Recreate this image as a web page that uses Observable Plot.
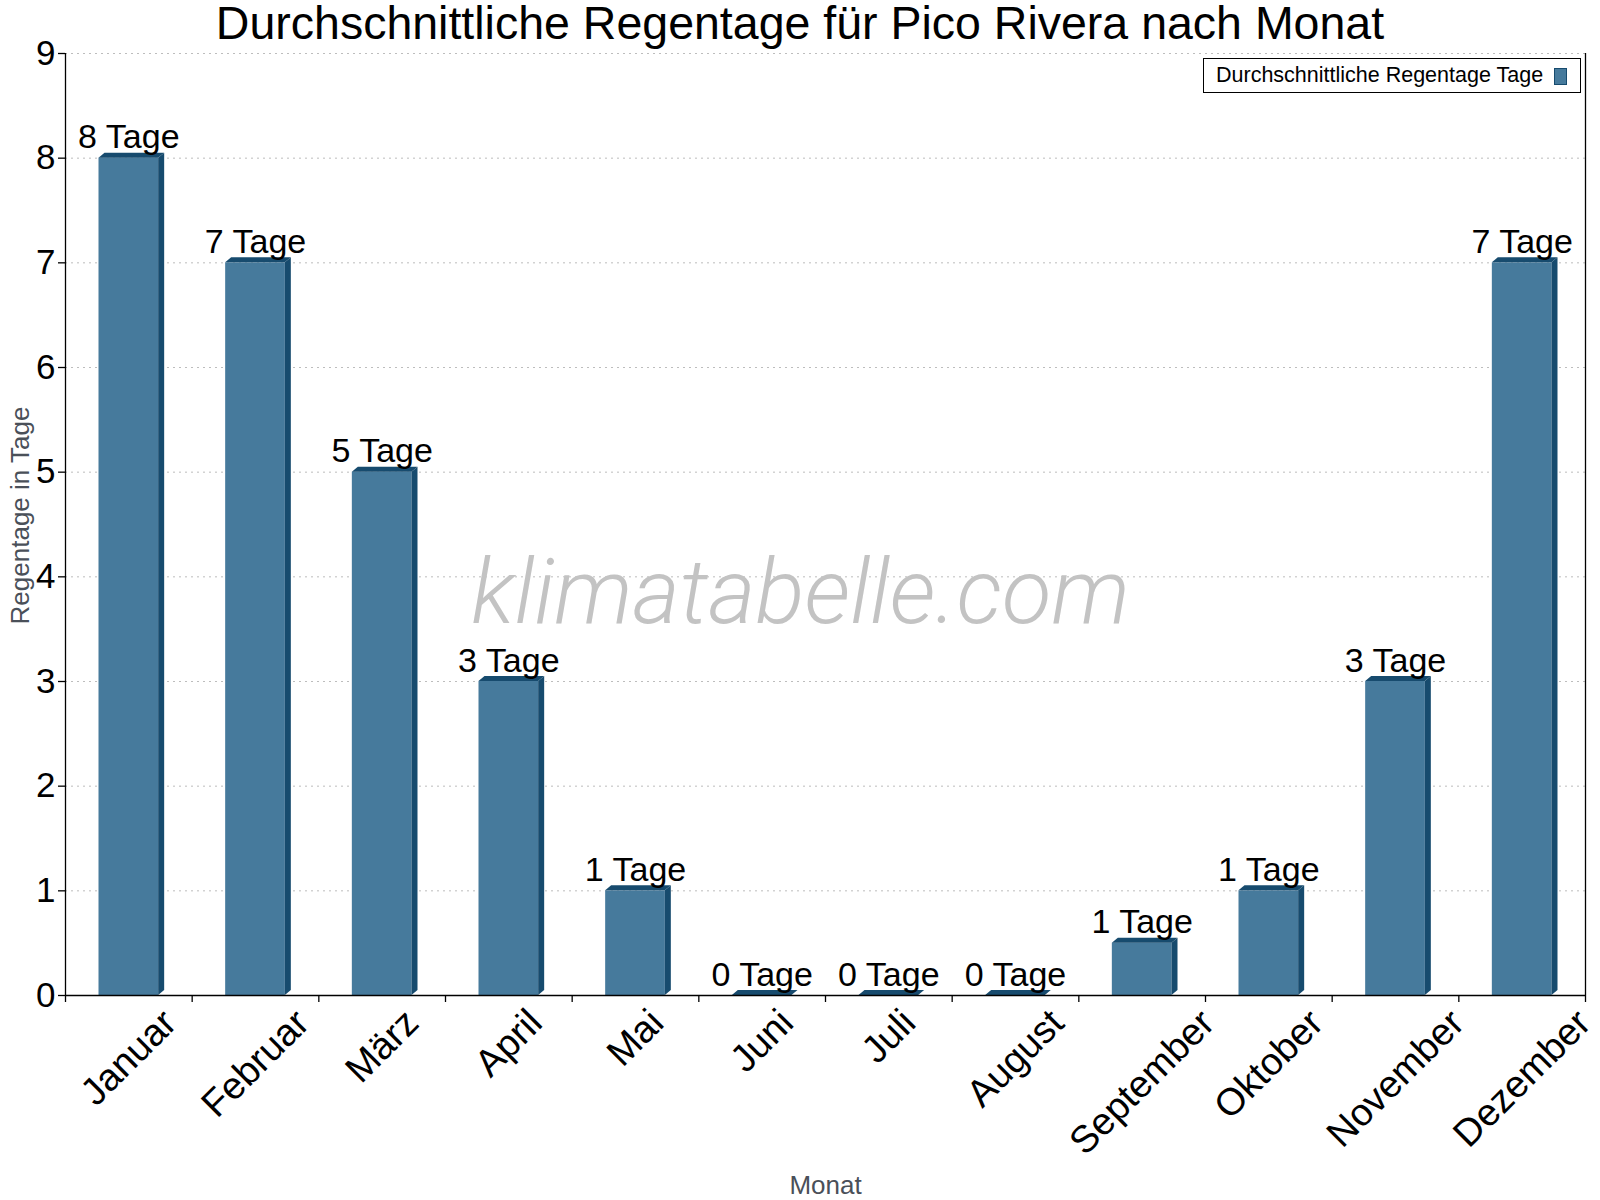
<!DOCTYPE html>
<html>
<head>
<meta charset="utf-8">
<script src="https://cdn.jsdelivr.net/npm/d3@7"></script>
<script src="https://cdn.jsdelivr.net/npm/@observablehq/plot@0.6"></script>
<style>
  html, body { margin: 0; padding: 0; background: #fff; }
  #wrap { position: relative; width: 1600px; height: 1200px; font-family: "Liberation Sans", Arial, sans-serif; }
  #title { position: absolute; left: 0; top: 0px; width: 1600px; text-align: center; font-size: 46.5px; line-height: 47px; color: #000; }
  #legend { position: absolute; left: 1203px; top: 58px; width: 376px; height: 33px; border: 1px solid #000; background: #fff; box-sizing: content-box; font-size: 21.5px; }
  #legend .lbl { position: absolute; left: 12px; top: 5px; line-height: 23px; }
  #legend .sw { position: absolute; left: 350px; top: 9px; width: 11px; height: 15px; background: #467a9c; border: 1px solid #174b6e; }
</style>
</head>
<body>
<div id="wrap">
  <div id="chart"></div>
  <div id="title">Durchschnittliche Regentage für Pico Rivera nach Monat</div>
  <div id="legend"><span class="lbl">Durchschnittliche Regentage Tage</span><span class="sw"></span></div>
</div>
<script>
const months = ["Januar", "Februar", "März", "April", "Mai", "Juni", "Juli", "August", "September", "Oktober", "November", "Dezember"];
const rainDays = [8, 7, 5, 3, 1, 0, 0, 0, 0.5, 1, 3, 7];
const valueLabels = ["8 Tage", "7 Tage", "5 Tage", "3 Tage", "1 Tage", "0 Tage", "0 Tage", "0 Tage", "1 Tage", "1 Tage", "3 Tage", "7 Tage"];
const yTicks = [0, 1, 2, 3, 4, 5, 6, 7, 8, 9];
const boundaries = d3.range(0, months.length + 1);

const frontColor = "#467a9c";
const darkColor = "#174b6e";
const depthX = 6, depthY = 5;

const data = months.map((m, i) => ({i, month: m, value: rainDays[i], label: valueLabels[i]}));

const W = 1600, H = 1200, mL = 65, mR = 15, mT = 53, mB = 205;
const y0 = H - mB;

function bars3d(index, scales, values, dimensions, context, next) {
  const g = next(index, scales, values, dimensions, context);
  const ns = "http://www.w3.org/2000/svg";
  g.querySelectorAll("rect").forEach(r => {
    const x = +r.getAttribute("x"), y = +r.getAttribute("y");
    const w = +r.getAttribute("width"), h = +(r.getAttribute("height") || 0);
    const top = document.createElementNS(ns, "polygon");
    top.setAttribute("points", `${x},${y} ${x + depthX},${y - depthY} ${x + w + depthX},${y - depthY} ${x + w},${y}`);
    top.setAttribute("fill", darkColor);
    const side = document.createElementNS(ns, "polygon");
    side.setAttribute("points", `${x + w},${y} ${x + w + depthX},${y - depthY} ${x + w + depthX},${y + h - depthY} ${x + w},${y + h}`);
    side.setAttribute("fill", darkColor);
    g.appendChild(top);
    g.appendChild(side);
  });
  return g;
}

const chart = Plot.plot({
  width: W, height: H,
  marginLeft: mL, marginRight: mR, marginTop: mT, marginBottom: mB,
  style: {fontFamily: "'Liberation Sans', Arial, sans-serif", background: "#fff", color: "#000", overflow: "visible"},
  x: {type: "linear", domain: [0, months.length], axis: null},
  y: {domain: [0, 9], axis: null},
  marks: [
    Plot.gridY(yTicks.slice(1), {stroke: "#bdbdbd", strokeOpacity: 1, strokeDasharray: "2,4", strokeWidth: 1}),
    Plot.text(["klimatabelle.com"], {frameAnchor: "middle", dx: -25, dy: 98, lineAnchor: "bottom", fontSize: 91, fontStyle: "italic", fontWeight: 300, fontFamily: "Roboto", fill: "#c3c3c3"}),
    Plot.rectY(data, {x1: "i", x2: d => d.i + 1, y: "value", insetLeft: 33.5, insetRight: 33.5, fill: frontColor, render: bars3d}),
    Plot.ruleX([0, months.length], {y1: 0, y2: 9, stroke: "#000", strokeWidth: 1.3}),
    Plot.ruleY([0], {stroke: "#000", strokeWidth: 1.3}),
    Plot.axisY({ticks: yTicks, tickSize: 7, tickPadding: 3, fontSize: 35, label: null, strokeWidth: 1.3}),
    Plot.axisX({ticks: boundaries, tickSize: 7, tickFormat: () => "", label: null, strokeWidth: 1.3}),
    Plot.text(data, {x: d => d.i + 0.5, y: "value", text: "label", dy: -10, lineAnchor: "bottom", fontSize: 34, fill: "#000"}),
    Plot.text(data, {x: d => d.i + 0.5, y: 0, text: "month", rotate: -45, textAnchor: "middle", lineAnchor: "middle", fontSize: 38, fill: "#000"}),
    Plot.text(["Regentage in Tage"], {frameAnchor: "left", dx: -45, dy: -9, rotate: -90, textAnchor: "middle", lineAnchor: "middle", fontSize: 26, fill: "#4a5059"}),
    Plot.text(["Monat"], {frameAnchor: "bottom", dy: 198, lineAnchor: "bottom", fontSize: 26, fill: "#4a5059"})
  ]
});

document.getElementById("chart").append(chart);

// align rotated month labels: centered on their band, tops just below the axis
const svgBox = chart.getBoundingClientRect();
chart.querySelectorAll("text").forEach(t => {
  if (!months.includes(t.textContent)) return;
  const tr = t.getAttribute("transform") || "";
  if (!tr.includes("rotate")) return;
  const r = t.getBoundingClientRect();
  const shift = (y0 + 6) - (r.top - svgBox.top);
  t.setAttribute("transform", `translate(0,${shift.toFixed(1)}) ` + tr);
});
</script>
</body>
</html>
